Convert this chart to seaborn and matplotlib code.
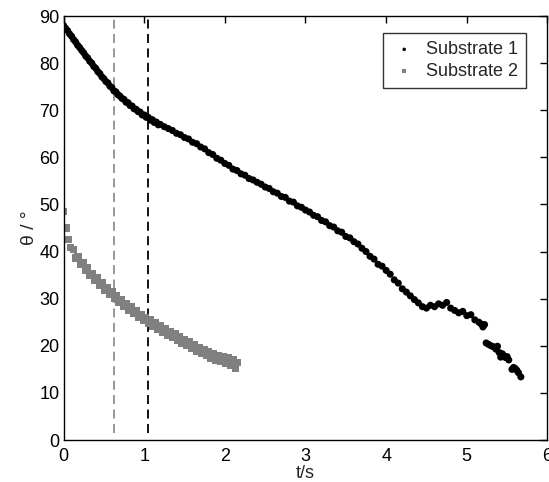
import numpy as np
import pandas as pd
import seaborn as sns
import matplotlib.pyplot as plt

# Substrate 1 (black dots)
t1 = [0.000, 0.025, 0.050, 0.075, 0.100, 0.125, 0.150, 0.175, 0.200, 0.225,
      0.250, 0.275, 0.300, 0.325, 0.350, 0.375, 0.400, 0.425, 0.450, 0.475,
      0.500, 0.525, 0.550, 0.575, 0.600, 0.625, 0.650, 0.675, 0.700, 0.725,
      0.750, 0.775, 0.800, 0.825, 0.850, 0.875, 0.900, 0.925, 0.950, 0.975,
      1.000, 1.025, 1.050, 1.075, 1.100, 1.125, 1.150, 1.175, 1.200,
      1.25, 1.30, 1.35, 1.40, 1.45, 1.50, 1.55, 1.60, 1.65, 1.70,
      1.75, 1.80, 1.85, 1.90, 1.95, 2.00, 2.05, 2.10, 2.15, 2.20,
      2.25, 2.30, 2.35, 2.40, 2.45, 2.50, 2.55, 2.60, 2.65, 2.70,
      2.75, 2.80, 2.85, 2.90, 2.95, 3.00, 3.05, 3.10, 3.15, 3.20,
      3.25, 3.30, 3.35, 3.40, 3.45, 3.50, 3.55, 3.60, 3.65, 3.70,
      3.75, 3.80, 3.85, 3.90, 3.95, 4.00, 4.05, 4.10, 4.15, 4.20,
      4.25, 4.30, 4.35, 4.40, 4.45, 4.50, 4.55, 4.60, 4.65, 4.70,
      4.75, 4.80, 4.85, 4.90, 4.95, 5.00, 5.05, 5.10, 5.15, 5.18,
      5.20, 5.22,
      5.24, 5.27, 5.30, 5.33, 5.36, 5.38, 5.40, 5.42, 5.44, 5.46,
      5.48, 5.50, 5.52, 5.56, 5.58, 5.60, 5.62, 5.64, 5.67]
theta1 = [88.0, 87.4, 86.9, 86.2, 85.7, 85.0, 84.5, 83.8, 83.3, 82.7,
          82.2, 81.5, 81.1, 80.4, 80.0, 79.3, 78.9, 78.2, 77.8, 77.1,
          76.7, 76.1, 75.8, 75.1, 74.8, 74.1, 73.9, 73.3, 73.0, 72.5,
          72.3, 71.7, 71.6, 71.0, 70.9, 70.3, 70.2, 69.7, 69.6, 69.0,
          69.0, 68.5, 68.5, 67.9, 68.0, 67.4, 67.5, 66.9, 67.0,
          66.5, 66.1, 65.7, 65.1, 64.8, 64.2, 63.9, 63.2, 62.9, 62.2,
          61.8, 61.0, 60.6, 59.8, 59.4, 58.7, 58.3, 57.5, 57.2, 56.5,
          56.2, 55.5, 55.2, 54.7, 54.3, 53.7, 53.4, 52.7, 52.4, 51.7,
          51.5, 50.7, 50.5, 49.7, 49.4, 48.8, 48.4, 47.7, 47.4, 46.6,
          46.3, 45.5, 45.2, 44.4, 44.1, 43.2, 42.9, 42.1, 41.6, 40.7,
          40.0, 39.0, 38.4, 37.3, 36.9, 36.0, 35.2, 34.0, 33.3, 32.1,
          31.4, 30.6, 29.8, 29.1, 28.3, 28.0, 28.6, 28.3, 28.9, 28.6,
          29.2, 28.0, 27.5, 27.0, 27.3, 26.4, 26.6, 25.5, 25.0, 24.6,
          24.0, 24.5,
          20.6, 20.3, 20.0, 19.8, 19.3, 19.9, 18.6, 17.6, 18.3, 17.9,
          17.5, 17.7, 17.0, 15.0, 15.4, 15.2, 14.8, 14.3, 13.4]

# Substrate 2 (grey squares)
t2 = [0.00, 0.03, 0.06, 0.09, 0.12, 0.15, 0.18, 0.21, 0.24, 0.27,
      0.30, 0.33, 0.36, 0.39, 0.42, 0.45, 0.48, 0.51, 0.54, 0.57,
      0.60, 0.63, 0.66, 0.69, 0.72, 0.75, 0.78, 0.81, 0.84, 0.87,
      0.90, 0.93, 0.96, 0.99, 1.02, 1.05, 1.08, 1.11, 1.14, 1.17,
      1.20, 1.23, 1.26, 1.29, 1.32, 1.35, 1.38, 1.41, 1.44, 1.47,
      1.50, 1.53, 1.56, 1.59, 1.62, 1.65, 1.68, 1.71, 1.74, 1.77,
      1.80, 1.83, 1.86, 1.89, 1.92, 1.95, 1.98, 2.01, 2.04, 2.07,
      2.10, 2.13, 2.16]
theta2 = [48.5, 45.0, 42.6, 40.9, 40.4, 38.6, 38.9, 37.2, 37.6, 36.1,
          36.5, 35.0, 35.3, 33.9, 34.4, 32.9, 33.3, 31.8, 32.4, 31.0,
          31.5, 30.1, 30.6, 29.2, 29.8, 28.4, 29.0, 27.6, 28.2, 26.8,
          27.4, 26.1, 26.7, 25.4, 26.0, 24.8, 25.5, 24.1, 24.9, 23.5,
          24.3, 22.9, 23.7, 22.3, 23.1, 21.8, 22.5, 21.2, 21.9, 20.6,
          21.3, 20.0, 20.8, 19.4, 20.2, 18.9, 19.7, 18.4, 19.2, 17.9,
          18.7, 17.4, 18.3, 17.0, 17.9, 16.6, 17.6, 16.2, 17.4, 15.8,
          17.0, 15.3, 16.4]

# times marked by dashed lines
t_mark2 = 0.62
t_mark1 = 1.05

df1 = pd.DataFrame({'t': t1, 'theta': theta1})
df2 = pd.DataFrame({'t': t2, 'theta': theta2})

sns.set_style('white')
plt.rcParams['font.family'] = ['Liberation Sans', 'DejaVu Sans']

fig = plt.figure(figsize=(5.49, 4.82), dpi=100)
ax = fig.add_axes([0.1157, 0.0871, 0.8815, 0.8797])

ax.vlines(t_mark2, 1.5, 90, colors='#909090', linestyles=(0, (5, 3)), lw=1.3, zorder=1)
ax.vlines(t_mark1, 1.5, 90, colors='black', linestyles=(0, (5, 3)), lw=1.3, zorder=1)

sns.scatterplot(data=df1, x='t', y='theta', color='black', marker='o', s=26,
                edgecolor='none', label='Substrate 1', ax=ax, zorder=3)
sns.scatterplot(data=df2, x='t', y='theta', color='#808080', marker='s', s=28,
                edgecolor='none', label='Substrate 2', ax=ax, zorder=2)

ax.set_xlim(0, 6)
ax.set_ylim(0, 90)
ax.set_xticks(range(0, 7))
ax.set_yticks(range(0, 91, 10))
ax.tick_params(direction='in', length=5, width=1, top=True, right=True,
               labelsize=13, colors='black', pad=3)
ax.tick_params(axis='x', pad=6)
for sp in ax.spines.values():
    sp.set_color('black')
    sp.set_linewidth(1)
ax.set_xlabel('t/s', fontsize=13, labelpad=0)
ax.set_ylabel('θ / °', fontsize=14, labelpad=1)

leg = ax.legend(loc='upper right', fontsize=13, frameon=True, fancybox=False,
                bbox_to_anchor=(526 / 549, 1 - 33 / 482), bbox_transform=fig.transFigure,
                borderaxespad=0, handletextpad=0.5, markerscale=0.5,
                borderpad=0.45, labelspacing=0.25, handlelength=1.4)
leg.get_frame().set_edgecolor('black')
leg.get_frame().set_linewidth(1)

fig.savefig('out.png', dpi=100)
